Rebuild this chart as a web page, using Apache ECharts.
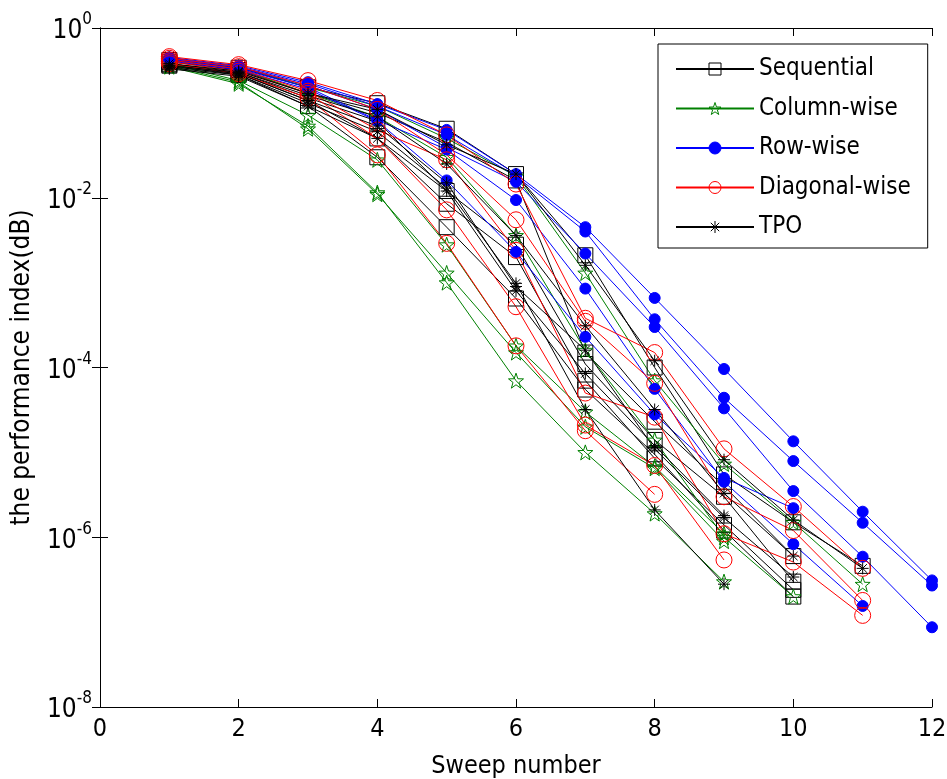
<!DOCTYPE html>
<html><head><meta charset="utf-8">
<script src="https://cdn.jsdelivr.net/npm/echarts@6/dist/echarts.min.js"></script>
<style>html,body{margin:0;padding:0;background:#fff}#c{width:947px;height:779px}</style>
</head><body><div id="c"></div>
<script>
const FONT = "'DejaVu Sans Condensed','Liberation Sans',Arial,sans-serif";

// Sweep numbers start at 1; each run lists the performance index at sweeps 1,2,3,...
const firstSweep = 1;
const xTicks = [0, 2, 4, 6, 8, 10, 12];
const yTickExponents = [0, -2, -4, -6, -8];

const sequential = [
  [0.42, 0.34, 0.20, 0.13, 0.065, 0.019, 0.0021, 1.0e-4, 5.5e-6, 1.5e-6, 4.6e-7],
  [0.40, 0.32, 0.17, 0.10, 0.045, 0.016, 1.5e-4, 2.3e-5, 4.0e-6, 6.0e-7],
  [0.38, 0.30, 0.15, 0.08, 0.012, 0.0028, 1.1e-4, 1.4e-5, 3.0e-6, 3.0e-7],
  [0.37, 0.29, 0.14, 0.05, 0.0085, 0.0020, 7.0e-5, 8.5e-6, 1.4e-6, 2.4e-7],
  [0.36, 0.28, 0.12, 0.03, 0.0045, 6.5e-4, 5.5e-5, 9.5e-6, 1.2e-6, 2.0e-7]
];
const columnWise = [
  [0.44, 0.35, 0.20, 0.12, 0.05, 0.018, 1.3e-3, 7.0e-5, 7.3e-6, 1.5e-6, 2.8e-7],
  [0.42, 0.33, 0.17, 0.09, 0.03, 0.0036, 1.6e-4, 1.4e-5, 1.0e-6, 2.0e-7],
  [0.38, 0.24, 0.094, 0.028, 0.0028, 1.8e-4, 3.0e-5, 6.8e-6, 1.1e-6],
  [0.36, 0.23, 0.065, 0.011, 0.0013, 1.5e-4, 2.0e-5, 6.5e-6, 9.0e-7],
  [0.35, 0.22, 0.07, 0.0115, 0.001, 7.0e-5, 1.0e-5, 1.9e-6, 3.0e-7]
];
const rowWise = [
  [0.45, 0.36, 0.23, 0.127, 0.063, 0.019, 0.0045, 6.6e-4, 9.6e-5, 1.35e-5, 2.0e-6, 3.1e-7],
  [0.44, 0.35, 0.22, 0.12, 0.055, 0.018, 0.0040, 3.7e-4, 4.4e-5, 7.9e-6, 1.48e-6, 2.7e-7],
  [0.43, 0.34, 0.21, 0.11, 0.039, 0.0154, 0.0022, 3.0e-4, 3.3e-5, 3.5e-6, 5.9e-7, 8.7e-8],
  [0.42, 0.33, 0.20, 0.082, 0.037, 0.0094, 8.5e-4, 5.6e-5, 4.5e-6, 8.3e-7, 1.55e-7],
  [0.41, 0.32, 0.19, 0.08, 0.016, 0.0023, 2.3e-4, 2.8e-5, 5.0e-6, 2.2e-6]
];
const diagonalWise = [
  [0.46, 0.37, 0.24, 0.14, 0.055, 0.0145, 3.8e-4, 1.5e-4, 1.1e-5, 2.3e-6, 4.3e-7],
  [0.44, 0.35, 0.21, 0.11, 0.032, 0.0055, 3.5e-4, 6.5e-5, 3.0e-6, 1.2e-6, 1.8e-7],
  [0.42, 0.33, 0.18, 0.063, 0.028, 0.0024, 5.0e-5, 2.6e-5, 1.1e-6, 5.1e-7, 1.2e-7],
  [0.40, 0.31, 0.17, 0.05, 0.0072, 5.2e-4, 2.1e-5, 7.0e-6, 5.4e-7],
  [0.38, 0.29, 0.15, 0.032, 0.0029, 1.8e-4, 1.8e-5, 3.2e-6]
];
const tpo = [
  [0.38, 0.31, 0.17, 0.11, 0.042, 0.019, 0.0016, 1.2e-4, 8.2e-6, 1.6e-6, 4.3e-7],
  [0.36, 0.30, 0.16, 0.09, 0.025, 0.0036, 3.1e-4, 3.2e-5, 3.3e-6, 6.0e-7],
  [0.35, 0.29, 0.14, 0.07, 0.015, 9.0e-4, 1.6e-4, 1.1e-5, 1.7e-6, 3.4e-7],
  [0.34, 0.28, 0.13, 0.06, 0.013, 9.8e-4, 3.2e-5, 2.1e-6, 2.8e-7],
  [0.33, 0.27, 0.12, 0.05, 0.012, 8.0e-4, 8.5e-5, 1.2e-5, 1.8e-6]
];

const STAR = 'path://M0,-1L0.235,-0.324L0.951,-0.309L0.38,0.124L0.588,0.809L0,0.4L-0.588,0.809L-0.38,0.124L-0.951,-0.309L-0.235,-0.324Z';
const ASTERISK = 'path://M0,-10L0,10M-10,0L10,0M-7,-7L7,7M-7,7L7,-7';

const methods = [
  {name: 'Sequential', runs: sequential, color: '#000000', symbol: 'rect', size: 15, fill: 'transparent'},
  {name: 'Column-wise', runs: columnWise, color: '#008000', symbol: STAR, size: 15, fill: 'transparent'},
  {name: 'Row-wise', runs: rowWise, color: '#0000ff', symbol: 'circle', size: 11, fill: '#0000ff'},
  {name: 'Diagonal-wise', runs: diagonalWise, color: '#ff0000', symbol: 'circle', size: 16, fill: 'transparent'},
  {name: 'TPO', runs: tpo, color: '#000000', symbol: ASTERISK, size: 12, fill: 'transparent'}
];

const series = [];
methods.forEach(m => {
  m.runs.forEach(run => {
    series.push({
      type: 'line',
      name: m.name,
      data: run.map((v, i) => [i + firstSweep, v]),
      symbol: m.symbol,
      symbolSize: m.size,
      showAllSymbol: true,
      lineStyle: {color: m.color, width: 1},
      itemStyle: {color: m.fill, borderColor: m.color, borderWidth: 1},
      emphasis: {disabled: true},
      animation: false
    });
  });
});

const yFormatter = v => '{b|10}{s|' + Math.round(Math.log10(v)) + '}';
const axisLineStyle = {lineStyle: {color: '#000', width: 1}};
const tick = {inside: true, length: 8, lineStyle: {color: '#000'}};

const chart = echarts.init(document.getElementById('c'), null, {renderer: 'canvas'});
chart.setOption({
  backgroundColor: '#fff',
  animation: false,
  grid: {left: 100, right: 15, top: 28, bottom: 72, outerBoundsMode: 'none', containLabel: false},
  legend: {
    data: methods.map(m => ({
      name: m.name,
      itemStyle: {color: m.fill, borderColor: m.color, borderWidth: 1}
    })),
    orient: 'vertical',
    left: 658, top: 44,
    itemWidth: 78, itemHeight: 15, itemGap: 13.5,
    padding: [12, 17, 8, 17],
    borderColor: '#000', borderWidth: 1, borderRadius: 0,
    backgroundColor: '#fff',
    textStyle: {fontFamily: FONT, fontSize: 24, color: '#000', lineHeight: 26},
    selectedMode: false
  },
  xAxis: [{
    type: 'value', min: xTicks[0], max: xTicks[xTicks.length - 1], interval: 2,
    axisLine: axisLineStyle, axisTick: tick, splitLine: {show: false},
    axisLabel: {fontFamily: FONT, fontSize: 25, color: '#000', margin: 10},
    name: 'Sweep number', nameLocation: 'middle', nameGap: 47,
    nameTextStyle: {fontFamily: FONT, fontSize: 25, color: '#000'}
  }, {
    type: 'value', position: 'top', min: xTicks[0], max: xTicks[xTicks.length - 1], interval: 2,
    axisLine: axisLineStyle, axisTick: tick, splitLine: {show: false}, axisLabel: {show: false}
  }],
  yAxis: [{
    type: 'log', logBase: 10, min: Math.pow(10, yTickExponents[yTickExponents.length - 1]), max: Math.pow(10, yTickExponents[0]), interval: 2,
    axisLine: axisLineStyle, axisTick: tick, splitLine: {show: false}, minorTick: {show: false},
    axisLabel: {
      formatter: yFormatter, margin: 8,
      rich: {
        b: {fontFamily: FONT, fontSize: 26, color: '#000', padding: [7, 0, 0, 0]},
        s: {fontFamily: FONT, fontSize: 17, color: '#000', padding: [0, 0, 16, 0]}
      }
    },
    name: 'the performance index(dB)', nameLocation: 'middle', nameGap: 65, nameRotate: 90,
    nameTextStyle: {fontFamily: FONT, fontSize: 26, color: '#000'}
  }, {
    type: 'log', logBase: 10, position: 'right', min: Math.pow(10, yTickExponents[yTickExponents.length - 1]), max: Math.pow(10, yTickExponents[0]), interval: 2,
    axisLine: axisLineStyle, axisTick: tick, splitLine: {show: false}, axisLabel: {show: false}
  }],
  series: series
});
</script></body></html>
